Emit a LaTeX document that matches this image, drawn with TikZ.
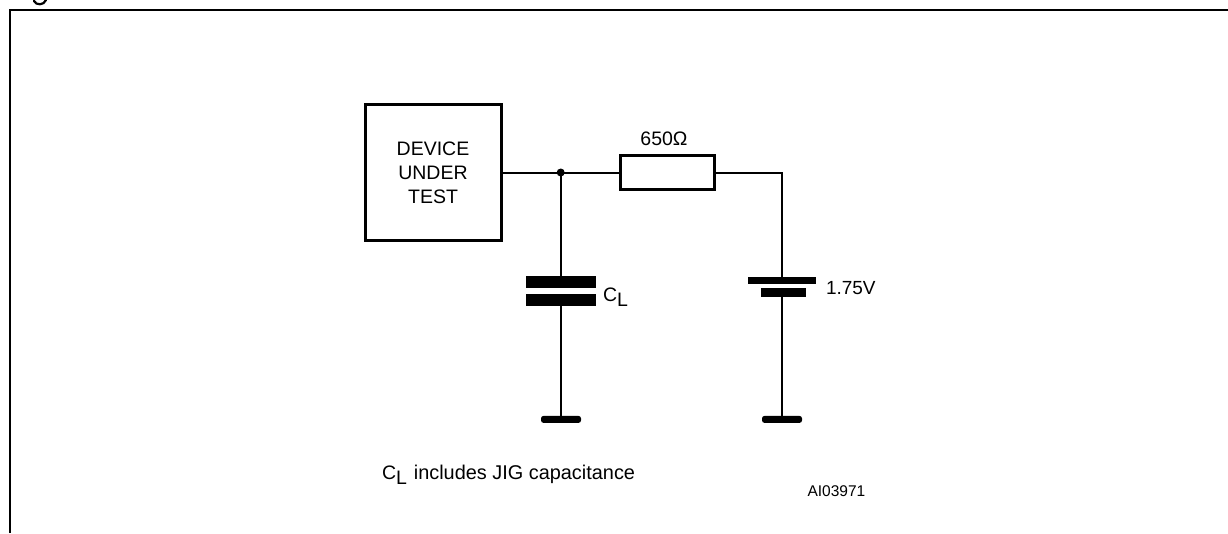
\documentclass[tikz,border=0pt]{standalone}
\usepackage{fontspec}
\setmainfont{Liberation Sans}
\newcommand{\CLtext}{C\raisebox{-5.4pt}{L}}
\tikzset{
  wire/.style={line width=2pt,black},
  frameline/.style={line width=2.2pt,black},
  box/.style={draw=black,line width=3.2pt,fill=white,inner sep=0pt,outer sep=0pt},
  plate/.style={fill=black,draw=none,inner sep=0pt,outer sep=0pt},
  gndbar/.style={fill=black,draw=none,rounded corners=2.5pt,inner sep=0pt,outer sep=0pt,minimum width=40pt,minimum height=7pt},
  lab/.style={inner sep=0pt,outer sep=0pt,font=\fontsize{19.5pt}{24pt}\selectfont,align=center},
  tinylab/.style={inner sep=0pt,outer sep=0pt,font=\fontsize{15.5pt}{18pt}\selectfont},
  dotn/.style={circle,fill=black,inner sep=0pt,minimum size=8pt,outer sep=0pt}
}
\begin{document}
\begin{tikzpicture}[x=1pt,y=-1pt]
\useasboundingbox (0,0) rectangle (1228,533);
\fill[white] (0,0) rectangle (1228,533);
% remnant of the cut-off caption at the top edge
\draw[line width=2.2pt,line cap=round] (34,1) .. controls (36,5.5) and (44,5.5) .. (46,0);
\coordinate (fbl) at (10,533);
\coordinate (ftl) at (10,10);
\coordinate (ftr) at (1228,10);
\draw[frameline] (fbl) -- (ftl) -- (ftr);
% nodes
\node[box,minimum width=136.3pt,minimum height=135.7pt] (dut) at (433.6,172.5) {};
\node[lab] (dutt) at (433,173) {DEVICE\\UNDER\\TEST};
\node[dotn] (jn) at (560.7,172.5) {};
\node[box,minimum width=93.7pt,minimum height=34pt] (res) at (667.6,172.5) {};
\node[lab,anchor=base] (rlab) at (664,145.5) {650Ω};
\coordinate (corner) at (782,172.5);
% capacitor
\node[plate,minimum width=69.5pt,minimum height=12pt] (ct) at (561,282) {};
\node[plate,minimum width=69.5pt,minimum height=12pt] (cb) at (561,300) {};
\node[lab,anchor=base west] (clab) at (603,301) {\CLtext};
% battery
\node[plate,minimum width=68pt,minimum height=6.4pt] (bl) at (782,280.5) {};
\node[plate,minimum width=45pt,minimum height=9pt] (bs) at (783.5,292.5) {};
\node[lab,anchor=base west,font=\fontsize{19pt}{24pt}\selectfont] (vlab) at (826,294) {1.75V};
% ground
\node[gndbar] (g1) at (561,419.4) {};
\node[gndbar] (g2) at (782,419.4) {};
% connectors
\draw[wire] (dut.east) -- (jn.center);
\draw[wire] (jn.center) -- (res.west);
\draw[wire] (res.east) -- (corner) -- (bl.north -| corner);
\draw[wire] (jn.center) -- (ct.north -| jn.center);
\draw[wire] (cb.south -| g1.center) -- (g1.center);
\draw[wire] (bs.south -| g2.center) -- (g2.center);
% notes
\node[lab,anchor=base west] (note) at (382,479.3) {\CLtext\kern1.5pt\ \fontsize{19.9pt}{24pt}\selectfont includes JIG capacitance};
\node[tinylab,anchor=base west] (code) at (807.5,496) {AI03971};
\end{tikzpicture}
\end{document}
